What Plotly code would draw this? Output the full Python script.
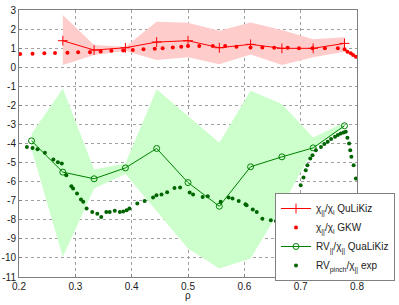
import plotly.graph_objects as go

# ---- data ----
rho_q = [0.2778, 0.3333, 0.3889, 0.4444, 0.5, 0.5556, 0.6111, 0.6667, 0.7222, 0.7778]
chi_q = [1.39, 0.90, 1.02, 1.32, 1.39, 1.02, 1.20, 0.99, 0.99, 1.25]
chi_q_up = [2.74, 1.16, 1.07, 2.39, 2.33, 1.91, 2.35, 1.95, 1.46, 1.57]
chi_q_lo = [0.11, 0.64, 0.85, 0.38, 0.52, 0.15, 0.67, 0.11, 0.52, 0.81]

rho_gkw = [0.202, 0.224, 0.245, 0.264, 0.286, 0.305, 0.326, 0.345, 0.364, 0.385,
           0.402, 0.421, 0.441, 0.455, 0.473, 0.488, 0.500, 0.520, 0.544, 0.566,
           0.586, 0.611, 0.632, 0.653, 0.677, 0.697, 0.721, 0.743, 0.766, 0.778,
           0.783, 0.789, 0.793, 0.798]
chi_gkw = [0.69, 0.71, 0.73, 0.74, 0.76, 0.78, 0.78, 0.83, 0.86, 0.88,
           0.90, 0.94, 0.97, 1.00, 1.04, 1.07, 1.11, 1.11, 1.11, 1.11,
           1.07, 1.04, 1.04, 1.02, 1.02, 0.99, 0.99, 0.99, 0.99, 0.94,
           0.81, 0.73, 0.64, 0.55]

rho_v = [0.2222, 0.2778, 0.3333, 0.3889, 0.4444, 0.5, 0.5556, 0.6111, 0.6667, 0.7222, 0.7778]
rv_q = [-3.86, -5.50, -5.85, -5.28, -4.26, -6.05, -7.29, -5.22, -4.70, -4.23, -3.07]
rv_q_up = [-3.50, -1.11, -5.36, -5.05, -1.16, -2.56, -3.96, -1.24, -1.93, -3.68, -2.90]
rv_q_lo = [-4.30, -9.95, -6.36, -5.60, -7.55, -9.51, -10.56, -10.03, -7.30, -4.30, -3.15]

rho_exp = [0.214, 0.224, 0.233, 0.246, 0.261, 0.269, 0.276, 0.284, 0.293, 0.296,
           0.303, 0.310, 0.314, 0.320, 0.330, 0.339, 0.346, 0.355, 0.361, 0.370,
           0.379, 0.385, 0.391, 0.396, 0.410, 0.423, 0.438, 0.444, 0.453, 0.463,
           0.476, 0.486, 0.503, 0.509, 0.526, 0.535, 0.558, 0.572, 0.579, 0.590,
           0.602, 0.604, 0.615, 0.622, 0.632, 0.647, 0.656, 0.665, 0.674, 0.683,
           0.689, 0.694, 0.700, 0.705, 0.709, 0.712, 0.717, 0.721, 0.727, 0.736,
           0.742, 0.748, 0.754, 0.761, 0.766, 0.771, 0.776, 0.780, 0.783, 0.786,
           0.788, 0.790, 0.794, 0.798]
rv_exp = [-4.18, -4.23, -4.30, -4.49, -4.84, -4.98, -5.05, -5.66, -6.24, -6.36,
          -6.62, -6.94, -7.06, -7.41, -7.59, -7.68, -7.85, -7.59, -7.59, -7.52,
          -7.59, -7.57, -7.50, -7.41, -7.15, -7.02, -6.83, -6.71, -6.68, -6.55,
          -6.33, -6.31, -6.57, -6.68, -6.80, -6.76, -7.06, -6.83, -6.89, -7.01,
          -7.18, -7.24, -7.46, -7.59, -7.94, -8.02, -8.06, -7.85, -7.67, -7.33,
          -6.97, -6.71, -6.19, -5.78, -5.40, -5.14, -4.78, -4.61, -4.35, -4.18,
          -4.03, -3.91, -3.77, -3.65, -3.56, -3.47, -3.42, -3.39, -3.70, -4.00,
          -4.35, -4.70, -5.14, -5.84]

x_ticks = [0.2, 0.3, 0.4, 0.5, 0.6, 0.7, 0.8]
x_ticktext = ["0.2", "0.3", "0.4", "0.5", "0.6", "0.7", "0.8"]
y_ticks = [3, 2, 1, 0, -1, -2, -3, -4, -5, -6, -7, -8, -9, -10, -11]
y_ticktext = ["3", "2", "1", "0", "-1", "-2", "-3", "-4", "-5", "-6", "-7", "-8", "-9", "-10", "-11"]

RED = "#ff0000"
GREEN = "#008000"
DGREEN = "#006400"
FONT = "Liberation Sans"
TXT = "#202020"
W, H = 399, 305

fig = go.Figure()

# bands
fig.add_trace(go.Scatter(x=rho_v + rho_v[::-1], y=rv_q_up + rv_q_lo[::-1],
                         fill="toself", fillcolor="rgb(204,255,204)", mode="none",
                         showlegend=False, hoverinfo="skip"))
fig.add_trace(go.Scatter(x=rho_q + rho_q[::-1], y=chi_q_up + chi_q_lo[::-1],
                         fill="toself", fillcolor="rgb(255,204,204)", mode="none",
                         showlegend=False, hoverinfo="skip"))

fig.add_trace(go.Scatter(x=rho_q, y=chi_q, mode="lines+markers",
                         name="χ<sub>||</sub>/χ<sub>i</sub> QuLiKiz",
                         line=dict(color=RED, width=1),
                         marker=dict(symbol="cross-thin", size=7, line=dict(color=RED, width=1))))
fig.add_trace(go.Scatter(x=rho_gkw, y=chi_gkw, mode="markers",
                         name="χ<sub>||</sub>/χ<sub>i</sub> GKW",
                         marker=dict(symbol="circle", size=4, color=RED)))
fig.add_trace(go.Scatter(x=rho_v, y=rv_q, mode="lines+markers",
                         name="RV<sub>||</sub>/χ<sub>||</sub> QuaLiKiz",
                         line=dict(color=GREEN, width=1),
                         marker=dict(symbol="circle-open", size=6, color=GREEN, line=dict(color=GREEN, width=1))))
fig.add_trace(go.Scatter(x=rho_exp, y=rv_exp, mode="markers",
                         name="RV<sub>pinch</sub>/χ<sub>||</sub> exp",
                         marker=dict(symbol="circle", size=4, color=DGREEN)))

axis_common = dict(showline=True, linecolor="#808080", linewidth=1, mirror=True,
                   showgrid=True, gridcolor="#a0a0a0", griddash="dot", gridwidth=1,
                   zeroline=False, ticks="inside", ticklen=3, tickcolor="#808080",
                   automargin=False,
                   tickfont=dict(family=FONT, size=10, color=TXT))

fig.update_xaxes(range=[0.2, 0.8], tickvals=x_ticks, ticktext=x_ticktext,
                 domain=[19 / W, 357 / W], **axis_common)
fig.update_yaxes(range=[-11, 3], tickvals=y_ticks, ticktext=y_ticktext,
                 domain=[1 - 277 / H, 1 - 10 / H], **axis_common)

fig.add_annotation(text="ρ", xref="paper", yref="paper", x=188 / W, y=1 - 295 / H,
                   xanchor="center", yanchor="middle", showarrow=False,
                   font=dict(family=FONT, size=10, color=TXT))

fig.update_layout(
    width=W, height=H,
    margin=dict(l=0, r=0, t=0, b=0, pad=0),
    paper_bgcolor="white", plot_bgcolor="white",
    font=dict(family=FONT, size=10, color=TXT),
    legend=dict(x=395 / W, xanchor="right", y=1 - 193 / H, yanchor="top",
                bgcolor="white", bordercolor="#808080", borderwidth=1,
                font=dict(family=FONT, size=10, color=TXT),
                tracegroupgap=0, itemwidth=30),
)

fig.write_html("out.html", config={"displayModeBar": False},
               post_script="document.body.style.margin='0';document.body.style.padding='0';")
